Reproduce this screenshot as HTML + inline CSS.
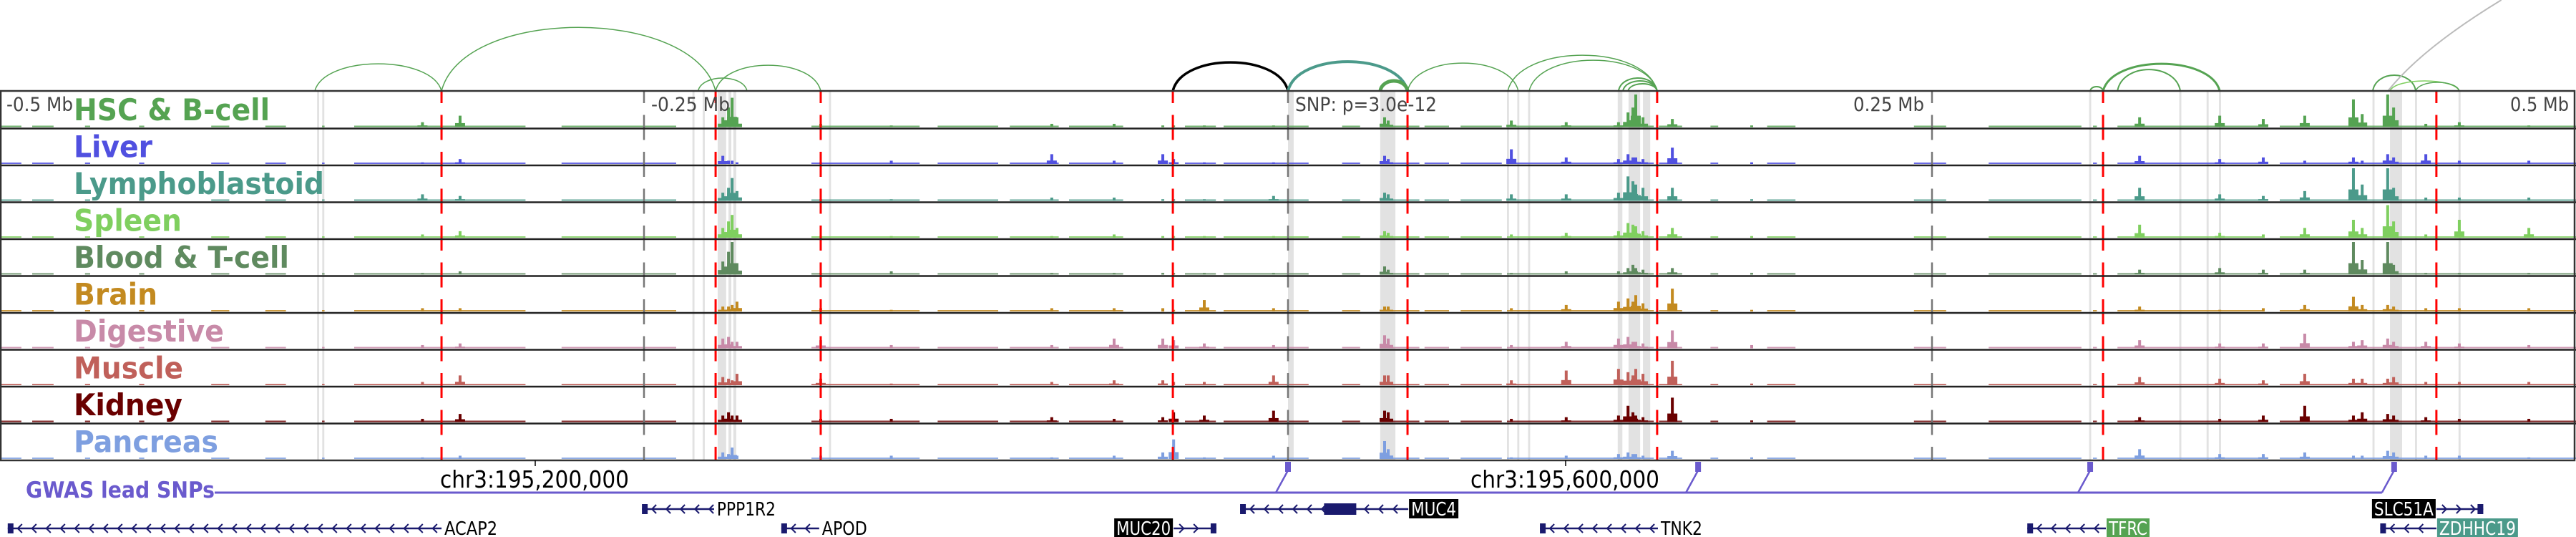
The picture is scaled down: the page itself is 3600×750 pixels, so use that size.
<!DOCTYPE html>
<html><head><meta charset="utf-8">
<style>
html,body{margin:0;padding:0;background:#fff;}
svg{display:block;}
text{font-family:"DejaVu Sans Condensed","DejaVu Sans","Liberation Sans",sans-serif;font-stretch:condensed;}
</style></head>
<body>
<svg id="chart" width="3600" height="750" viewBox="0 0 3600 750" xmlns="http://www.w3.org/2000/svg"></svg>
<script>
// ---- data (genomic offsets in kb relative to lead SNP) ----
const tissues = ["HSC & B-cell","Liver","Lymphoblastoid","Spleen","Blood & T-cell","Brain","Digestive","Muscle","Kidney","Pancreas"];
const tissueColors = ["#55a352","#5050e0","#4b9a8a","#7fcf5f","#5f8a5f","#c38a20","#c88aa8","#c0605a","#6a0000","#7e9fe0"];
const baselineSegs = [[-500,-491.7],[-487.5,-479.2],[-467,-465],[-446,-444],[-418,-411],[-397,-389],[-375,-374],[-362.5,-296],[-282,-237.5],[-185,-143],[-136,-112.5],[-108,-89],[-85,-64],[-40,-28],[-25,8],[21,28],[39,51],[53,62.5],[67,83],[85,142],[144,153],[164,167],[186,197],[243,255.5],[272,308],[312.5,314],[322,379],[385,500]];
const peakKb = [-336,-321.4,-219.4,-217.2,-215.8,-213.9,-181.4,-154,-91.7,-67.5,-48.6,-44.4,-32.5,-5.6,37.5,38.9,86.7,108,128.3,132,133.9,135,137.8,149.2,180,330.6,361.7,378.6,394.7,413.6,417,426.9,429.2,441.7,454.7,481.7];
const peakHeights = [
 [0.15,0.35,0.3,0.6,0.9,0.3,0.1,0.05,0.1,0.1,0.05,0.05,0.05,0.05,0.3,0.2,0.2,0.15,0.15,0.45,0.6,1.0,0.3,0.25,0.05,0.3,0.35,0.25,0.35,0.85,0.4,1.0,0.6,0.1,0.15,0.05],
 [0.05,0.15,0.25,0.1,0.1,0.05,0.05,0.1,0.3,0.1,0.3,0.15,0.05,0.05,0.25,0.15,0.45,0.2,0.15,0.3,0.2,0.2,0.15,0.5,0.05,0.25,0.15,0.2,0.1,0.2,0.1,0.3,0.2,0.3,0.1,0.1],
 [0.2,0.15,0.25,0.4,0.7,0.3,0.05,0.05,0.1,0.1,0.05,0.05,0.05,0.15,0.25,0.2,0.2,0.2,0.25,0.75,0.6,0.5,0.4,0.4,0.05,0.4,0.2,0.15,0.3,1.0,0.5,1.0,0.4,0.1,0.1,0.1],
 [0.1,0.2,0.3,0.5,0.7,0.3,0.05,0.05,0.05,0.1,0.05,0.05,0.05,0.05,0.2,0.15,0.1,0.15,0.2,0.45,0.4,0.35,0.2,0.3,0.05,0.4,0.15,0.1,0.3,0.55,0.3,1.0,0.5,0.1,0.55,0.3],
 [0.05,0.1,0.4,0.7,1.0,0.35,0.05,0.1,0.05,0.05,0.05,0.05,0.05,0.05,0.25,0.15,0.05,0.1,0.1,0.2,0.3,0.2,0.15,0.2,0.05,0.15,0.2,0.15,0.15,1.0,0.45,1.0,0.3,0.05,0.05,0.05],
 [0.1,0.1,0.15,0.15,0.2,0.3,0.1,0.05,0.1,0.1,0.1,0.05,0.35,0.1,0.15,0.15,0.1,0.2,0.3,0.4,0.3,0.5,0.25,0.7,0.05,0.15,0.05,0.1,0.2,0.45,0.2,0.2,0.15,0.1,0.1,0.1],
 [0.1,0.15,0.3,0.35,0.2,0.2,0.25,0.1,0.1,0.3,0.3,0.25,0.15,0.1,0.4,0.3,0.1,0.2,0.3,0.35,0.2,0.2,0.15,0.55,0.1,0.25,0.15,0.15,0.45,0.2,0.25,0.3,0.2,0.2,0.15,0.1],
 [0.1,0.3,0.25,0.2,0.15,0.35,0.2,0.05,0.1,0.15,0.15,0.1,0.1,0.3,0.3,0.3,0.15,0.45,0.5,0.4,0.3,0.5,0.35,0.75,0.05,0.25,0.2,0.15,0.35,0.2,0.2,0.2,0.25,0.1,0.1,0.1],
 [0.1,0.25,0.2,0.3,0.2,0.2,0.1,0.1,0.15,0.1,0.15,0.3,0.2,0.35,0.35,0.3,0.1,0.15,0.2,0.5,0.3,0.2,0.15,0.75,0.05,0.15,0.1,0.2,0.5,0.2,0.3,0.25,0.2,0.15,0.1,0.1],
 [0.05,0.1,0.2,0.15,0.35,0.1,0.1,0.1,0.05,0.1,0.2,0.6,0.05,0.1,0.55,0.3,0.05,0.1,0.15,0.2,0.15,0.15,0.1,0.25,0.05,0.3,0.15,0.15,0.2,0.1,0.1,0.25,0.2,0.1,0.1,0.05]
];
const redLines = [-328.6,-222.2,-181.4,-44.7,46.4,143.3,316.4,445.8];
const axisTicks = [-250,0,250];
const bands = [[-376.9,-376.1],[-374.9,-374.1],[-231.2,-230.4],[-227.2,-226.4],[-221.4,-218.1],[-217.2,-216.1],[-215.3,-214.2],[-178.2,-177.4],[0,2.2],[35.8,41.7],[85,85.8],[89,89.8],[93.2,94],[128,129.8],[132.2,136.7],[137.8,140.6],[311,311.8],[346,346.8],[356.6,357.4],[361.4,362.2],[421,421.8],[427.8,432.5],[437.5,438.3],[454.4,455.2]];
// arcs: start kb, end kb, arc height (px), color, stroke width
const arcStart = [-377.8,-328.6,-229,-222.2,-44.7,0,35.8,46.4,85.3,93.6,128.3,130,132,311.4,316.4,322,421.1,427.8,437.8];
const arcEnd   = [-328.6,-222.2,-210,-181.4,0,46.4,46.4,89.4,143.3,143.3,143.3,143.3,143.3,316.4,361.7,346.4,437.8,454.7,454.7];
const arcHeight= [38,89,18,36,40,41,14,39,50,43,18,14,10,6,38,30,22,14,12];
const arcColor = ["#55a352","#55a352","#55a352","#55a352","#000","#4b9a8a","#55a352","#55a352","#55a352","#55a352","#55a352","#55a352","#55a352","#55a352","#55a352","#55a352","#55a352","#7fcf5f","#55a352"];
const arcWidth = [1.5,1.5,1.5,1.5,3.5,4,5,1.5,1.5,1.5,2,2,2,2,3,2,2,1.5,1.5];
const snpKb = [0,159.2,311.4,429.4];
const genes = [
 {name:"ACAP2",s:-497,e:-328.6,row:1,strand:-1,box:null},
 {name:"PPP1R2",s:-250.8,e:-222.8,row:0,strand:-1,box:null},
 {name:"APOD",s:-196.7,e:-182,row:1,strand:-1,box:null},
 {name:"MUC20",s:-44.4,e:-27.8,row:1,strand:1,box:"#000",labelLeft:true},
 {name:"MUC4",s:-18.6,e:46.7,row:0,strand:-1,box:"#000"},
 {name:"TNK2",s:97.8,e:143.6,row:1,strand:-1,box:null},
 {name:"TFRC",s:287,e:317.5,row:1,strand:-1,box:"#55a352"},
 {name:"SLC51A",s:445.8,e:464,row:0,strand:1,box:"#000",labelLeft:true},
 {name:"ZDHHC19",s:424,e:445.8,row:1,strand:-1,box:"#4b9a8a"}
];

// ---- layout (text widths measured from reference) ----
const labelW = {"HSC & B-cell":274,"Liver":110,"Lymphoblastoid":350,"Spleen":151,"Blood & T-cell":301,"Brain":117,"Digestive":210,"Muscle":153,"Kidney":152,"Pancreas":202};
const geneLabelW = {ACAP2:74,PPP1R2:82,APOD:63,MUC20:76,MUC4:63,TNK2:58,TFRC:54,SLC51A:83,ZDHHC19:107};
const NS="http://www.w3.org/2000/svg";
const svg=document.getElementById('chart');
const X0=0,X1=3600,TOP=128,TH=51.5;
function xs(kb){return X0+(kb+500)/1000*(X1-X0);}
function mk(tag,attrs,parent){const e=document.createElementNS(NS,tag);for(const k in attrs)e.setAttribute(k,attrs[k]);(parent||svg).appendChild(e);return e;}

// gray bands
const gB=mk('g',{});


bands.forEach(b=>{const r=mk('rect',{x:xs(b[0]),y:TOP,width:Math.max(2,xs(b[1])-xs(b[0])),height:TH*10,fill:'#e2e2e2'},gB);

});

// arcs
const gA=mk('g',{fill:'none'});


arcStart.forEach((s,i)=>{const x1=xs(s),x2=xs(arcEnd[i]),h=arcHeight[i];const y=TOP-1;
const p=mk('path',{d:`M${x1},${y} C${x1+(x2-x1)*0.08},${y-h*1.33} ${x2-(x2-x1)*0.08},${y-h*1.33} ${x2},${y}`,stroke:arcColor[i],'stroke-width':arcWidth[i]},gA);

});
const ga=mk('path',{d:`M${xs(427)},${TOP-1} Q${xs(440)},${TOP-60} ${xs(471)},0`,stroke:'#bbbbbb','stroke-width':2,fill:'none'},gA);



// tracks
tissues.forEach((t,ti)=>{
 const g=mk('g',{});
 
 
 const base=TOP+TH*(ti+1)-2;
 const col=tissueColors[ti];
 baselineSegs.forEach(s=>{const r=mk('rect',{x:xs(s[0]),y:base-2,width:xs(s[1])-xs(s[0]),height:2,fill:col,opacity:0.85},g);
 
 });
 peakKb.forEach((k,pi)=>{const h=peakHeights[ti][pi]*(TH-6);if(h<=0)return;
 const r=mk('rect',{x:xs(k)-2,y:base-h,width:4,height:h,fill:col},g);
 
 
 if(h>6){const r2=mk('rect',{x:xs(k)-7,y:base-h*0.35,width:14,height:h*0.35,fill:col},g);
 
 }});
 const lab=mk('text',{x:103,y:TOP+TH*ti+40,'font-size':42,'font-weight':'bold',fill:col,textLength:labelW[t],lengthAdjust:'spacingAndGlyphs'},g);
 lab.textContent=t;
 
 
});

// axis dashed lines
axisTicks.forEach(k=>{const l=mk('line',{x1:xs(k),x2:xs(k),y1:TOP,y2:TOP+TH*10,stroke:'#777','stroke-width':2.5,'stroke-dasharray':'35 16.5','stroke-dashoffset':19});

});
redLines.forEach(k=>{const l=mk('line',{x1:xs(k),x2:xs(k),y1:TOP,y2:TOP+TH*10,stroke:'#ff0000','stroke-width':3,'stroke-dasharray':'35 16.5','stroke-dashoffset':19});

});

// track borders
for(let i=1;i<10;i++){const l=mk('line',{x1:0,x2:3600,y1:TOP+TH*i,y2:TOP+TH*i,stroke:'#222','stroke-width':2.5});

}
const fr=mk('rect',{x:1,y:TOP-1,width:3597,height:TH*10+1,fill:'none',stroke:'#333','stroke-width':2.5});



// axis labels
[["-0.5 Mb",9,93],["-0.25 Mb",910,110],["SNP: p=3.0e-12",1810,198],["0.25 Mb",2590,99],["0.5 Mb",3508,82]].forEach(a=>{
 const t=mk('text',{x:a[1],y:TOP+27,'font-size':27,fill:'#444',textLength:a[2],lengthAdjust:'spacingAndGlyphs'});t.textContent=a[0];
 
 });

// ruler
[[748,"chr3:195,200,000",615],[2188,"chr3:195,600,000",2055]].forEach(r=>{
 const l=mk('line',{x1:r[0],x2:r[0],y1:643,y2:651,stroke:'#000','stroke-width':1.5});
 
 
 const t=mk('text',{x:r[2],y:681,'font-size':33,fill:'#000',textLength:264,lengthAdjust:'spacingAndGlyphs'});t.textContent=r[1];
 
 });

// GWAS
const gw=mk('text',{x:36,y:695,'font-size':31,'font-weight':'bold',fill:'#6a5acd',textLength:264,lengthAdjust:'spacingAndGlyphs'});gw.textContent="GWAS lead SNPs";


const lastX=xs(snpKb[snpKb.length-1])-17;
const gl=mk('line',{x1:300,x2:lastX,y1:688,y2:688,stroke:'#6a5acd','stroke-width':3});


snpKb.forEach(k=>{const x=xs(k);
 const d=mk('line',{x1:x,y1:657,x2:x-17,y2:688,stroke:'#6a5acd','stroke-width':2.5});
 
 
 const m=mk('rect',{x:x-4,y:645,width:8,height:14,fill:'#6a5acd'});
 
 });

// genes
const navy='#1a1a6e';
genes.forEach(g=>{
 const grp=mk('g',{});
 
 
 const y=g.row===0?711:738;
 const x1=xs(g.s),x2=xs(g.e);
 mk('line',{x1:x1,x2:x2,y1:y,y2:y,stroke:navy,'stroke-width':2.5},grp);
 let arrows='';
 for(let x=x1+14;x<x2-6;x+=20){arrows+=g.strand<0?`M${x+6},${y-6} L${x},${y} L${x+6},${y+6} `:`M${x-6},${y-6} L${x},${y} L${x-6},${y+6} `;}
 mk('path',{d:arrows,stroke:navy,'stroke-width':2,fill:'none'},grp);
 mk('rect',{x:g.strand<0?x1:x2-8,y:y-7,width:8,height:14,fill:navy},grp);
 if(g.name==="MUC4"){mk('rect',{x:xs(14),y:y-8,width:45,height:16,fill:navy},grp);}
 const tw=geneLabelW[g.name];
 const w=tw+6;
 const lx=g.labelLeft?x1-w-1:x2+1;
 if(g.box){const b=mk('rect',{x:lx,y:y-14,width:w,height:27,fill:g.box},grp);
  
  }
 const t=mk('text',{x:lx+3,y:y+9,'font-size':26,fill:g.box?'#fff':'#000',textLength:tw,lengthAdjust:'spacingAndGlyphs'},grp);
 t.textContent=g.name;
 
 
});
</script>
</body></html>
